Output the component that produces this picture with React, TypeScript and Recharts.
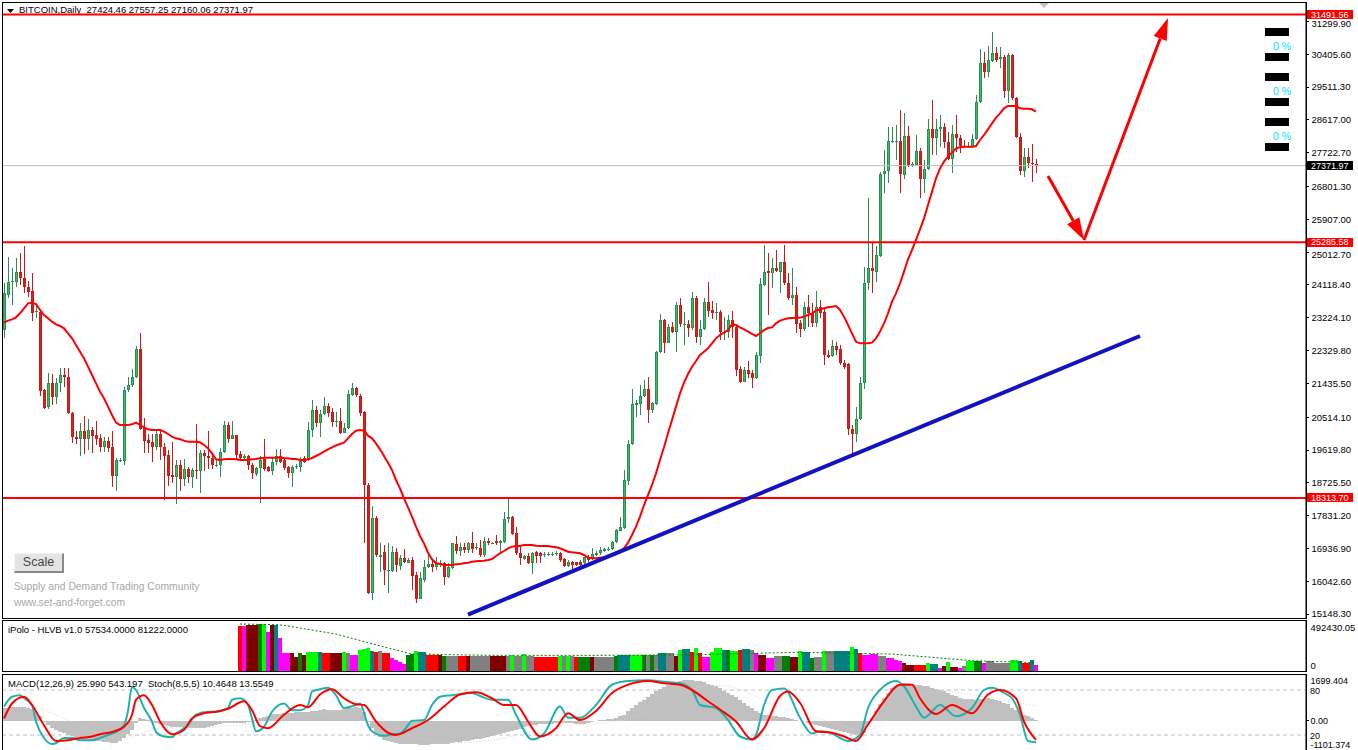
import React from "react";
import { ComposedChart, Bar, Line, XAxis, YAxis, ReferenceLine, Cell } from "recharts";

const FONT = '"Liberation Sans", Arial, sans-serif';
const W = 1358;
const SLOTS = 326;

// ---------- candles (daily BITCOIN) ----------
const opens = [
  22892, 23845, 24191, 24209, 24481, 24300, 24054, 23954, 23373, 23391,
  21256, 20784, 21438, 21075, 21438, 21665, 21620, 20639, 19966, 19921,
  20139, 19921, 20166, 20030, 19939, 19694, 19867, 19694, 18912, 19330,
  19330, 21256, 21393, 21620, 22374, 20257, 19894, 19830, 19712, 20057,
  19694, 19485, 18940, 18876, 19203, 18822, 19112, 18876, 19076, 19039,
  19530, 19457, 19403, 19203, 19212, 19566, 20293, 19930, 20021, 19512,
  19394, 19457, 19212, 18967, 19121, 19366, 19148, 19057, 19285, 19457,
  19348, 19148, 18985, 19157, 19148, 19394, 19348, 20166, 20711, 20347,
  20593, 20820, 20647, 20375, 20411, 20093, 20211, 21120, 21301, 21092,
  20665, 18667, 15714, 17758, 16713, 16850, 16323, 16323, 16850, 16459,
  16668, 16550, 16623, 16214, 15560, 16077, 16423, 16514, 16441, 16514,
  16532, 16150, 16395, 17059, 16868, 16986, 16895, 17095, 16968, 16941,
  16759, 17140, 17077, 17140, 17077, 17122, 17740, 17804, 17349, 16822,
  16641, 16732, 16532, 16850, 16805, 16759, 16777, 16777, 16786, 16805,
  16641, 16469, 16578, 16559, 16559, 16532, 16696, 16668, 16759, 16805,
  16877, 16895, 16914, 17122, 17422, 17486, 18785, 19776, 20848, 20875,
  21102, 21274, 20711, 20875, 22292, 23164, 22546, 22982, 22846, 23573,
  23037, 23046, 22955, 23755, 22710, 22910, 23664, 23437, 23346, 23391,
  22801, 22846, 23164, 22982, 21819, 21483, 21801, 21710, 21574, 22192,
  24118, 24500, 24436, 24590, 24481, 24736, 24182, 23755, 23846, 23092,
  22910, 23510, 23346, 23073, 23510, 23374, 22211, 22183, 22456, 22365,
  22002, 21965, 20185, 20049, 20457, 21438, 24164, 24573, 24482, 24909,
  27135, 27235, 28025, 28034, 28043, 27116, 28179, 27362, 27389, 27771,
  26998, 27271, 28361, 28116, 28361, 28416, 28025, 27544, 28225, 28116,
  27916, 27871, 27889, 28098, 29097, 30160, 29933, 30233, 30433, 30269,
  30342, 29415, 30387, 29206, 28161, 27235, 27616, 27452, 27424.46,
];
const highs = [
  24163, 24890, 24572, 24863, 25000, 25181, 24227, 24436, 23573, 23437,
  21290, 21710, 21683, 21574, 21865, 21865, 21865, 20660, 20139, 20366,
  20548, 20466, 20257, 20411, 20057, 19984, 19984, 20139, 19412, 19412,
  21347, 21620, 21819, 22455, 22801, 20484, 20057, 20057, 20202, 20184,
  19803, 19621, 19848, 19349, 19349, 19367, 19149, 19121, 20320, 19621,
  19621, 20139, 19530, 19349, 19666, 20402, 20384, 20402, 20039, 19603,
  19512, 19485, 19257, 19166, 19457, 19911, 19185, 19394, 19639, 19657,
  19394, 19185, 19212, 19230, 19421, 19457, 20393, 20983, 20820, 20711,
  21056, 20893, 20756, 20665, 20756, 20347, 21256, 21438, 21347, 21147,
  20680, 18712, 18094, 17822, 17095, 17032, 17077, 17004, 16941, 16759,
  16913, 16668, 16713, 16305, 16305, 16623, 16759, 16623, 16713, 16623,
  16577, 16532, 17095, 17286, 17077, 17077, 17104, 17377, 17077, 17168,
  17259, 17213, 17122, 17295, 17168, 17940, 18303, 17822, 17531, 16968,
  16759, 16805, 16850, 16877, 16850, 16850, 16841, 16841, 16868, 16850,
  16668, 16623, 16596, 16578, 16623, 16714, 16759, 16941, 16877, 16986,
  16941, 16968, 17150, 17459, 17804, 19076, 19894, 21274, 20984, 21393,
  21529, 21620, 20938, 22328, 23328, 23182, 23055, 23119, 23664, 23755,
  23391, 23164, 23936, 23818, 23164, 23755, 24209, 23682, 23636, 23437,
  23237, 23300, 23418, 23028, 21910, 21892, 22047, 21801, 22301, 24300,
  25208, 24981, 24845, 25072, 24754, 25208, 24454, 24590, 24073, 23164,
  23664, 23837, 23619, 23964, 23709, 23528, 22347, 22619, 22574, 22483,
  22074, 21983, 20303, 20802, 21620, 24600, 26480, 25299, 25190, 27207,
  27798, 28434, 28434, 28479, 28888, 28797, 28452, 27480, 28207, 27843,
  27525, 28634, 29161, 28634, 28752, 28525, 28298, 28479, 28752, 28207,
  28070, 28025, 28225, 29297, 30551, 30478, 30632, 31005, 30614, 30614,
  30387, 30433, 30405, 29251, 28252, 27843, 27843, 27952, 27557.25,
];
const lows = [
  22664, 23755, 23573, 24054, 24118, 23891, 23800, 23146, 23210, 21102,
  20738, 20729, 20848, 20866, 21193, 21347, 20602, 19803, 19785, 19467,
  19503, 19621, 19530, 19757, 19575, 19575, 19575, 18622, 18512, 19303,
  19212, 21211, 21347, 21574, 20166, 19548, 19530, 19285, 19621, 19349,
  18258, 18640, 18712, 18140, 18503, 18640, 18712, 18594, 18822, 18440,
  19058, 19094, 19094, 19167, 18894, 19530, 19803, 19912, 19349, 19349,
  19349, 19076, 18821, 18912, 18167, 19057, 19021, 18939, 19212, 19257,
  19076, 18848, 18621, 19094, 19030, 19276, 19330, 19984, 20257, 19984,
  20575, 20529, 20257, 20257, 20057, 20075, 20184, 21092, 21074, 20547,
  17077, 15696, 15532, 16713, 16305, 15941, 15732, 16305, 16305, 16350,
  16550, 16532, 15805, 15442, 15551, 16032, 16395, 16305, 16350, 16441,
  15941, 16123, 16368, 16786, 16741, 16822, 16804, 16822, 16895, 16713,
  16695, 17032, 17059, 17032, 16822, 17095, 17622, 17304, 16759, 16486,
  16623, 16505, 16233, 16532, 16532, 16714, 16741, 16741, 16741, 16578,
  16442, 16442, 16351, 16460, 16442, 16514, 16578, 16623, 16732, 16759,
  16850, 16877, 16895, 17095, 17413, 17459, 18667, 19757, 20530, 20575,
  21075, 20366, 20638, 20848, 22274, 22274, 22528, 22801, 22301, 22982,
  22483, 22710, 22892, 22528, 22483, 22892, 23255, 23182, 23164, 22619,
  22619, 22664, 22664, 21638, 21438, 21470, 21574, 21320, 21556, 22001,
  24100, 23300, 24027, 24481, 23891, 24118, 23709, 23573, 22819, 22710,
  22874, 22983, 22983, 22983, 23210, 21938, 22120, 22165, 22211, 21938,
  21820, 20030, 19485, 19849, 20439, 21275, 23982, 23891, 24209, 24891,
  26617, 26889, 27998, 27525, 26617, 26998, 27344, 27325, 27362, 26480,
  26617, 27253, 27662, 27662, 27889, 27843, 27525, 27180, 27752, 27707,
  27843, 27843, 27843, 28070, 29070, 29751, 29778, 30205, 30205, 30024,
  29206, 29070, 29161, 28116, 27116, 27071, 27298, 26935, 27160.06,
];
const closes = [
  23891, 24209, 24236, 24481, 24300, 24054, 23936, 23364, 23400, 21238,
  20775, 21438, 21075, 21438, 21665, 21601, 20620, 19966, 19921, 20139,
  19921, 20166, 20012, 19930, 19694, 19876, 19685, 18912, 19349, 19349,
  21256, 21393, 21620, 22374, 20184, 19876, 19803, 19712, 20057, 19694,
  19467, 18912, 18876, 19203, 18822, 19094, 18876, 19076, 19039, 19530,
  19457, 19403, 19203, 19212, 19566, 20293, 19930, 20021, 19485, 19394,
  19457, 19212, 18985, 19121, 19348, 19103, 19057, 19303, 19457, 19303,
  19139, 18985, 19148, 19175, 19330, 19303, 20166, 20711, 20347, 20593,
  20820, 20620, 20375, 20411, 20093, 20220, 21147, 21301, 21120, 20638,
  18667, 15714, 17758, 16759, 16759, 16350, 16350, 16850, 16486, 16668,
  16577, 16623, 16187, 15560, 16123, 16441, 16514, 16441, 16532, 16550,
  16150, 16441, 17077, 16868, 16986, 16895, 17095, 16913, 16986, 16759,
  17140, 17077, 17095, 17077, 17140, 17740, 17804, 17331, 16804, 16668,
  16732, 16532, 16823, 16732, 16732, 16786, 16795, 16795, 16814, 16623,
  16469, 16578, 16487, 16487, 16487, 16696, 16623, 16786, 16823, 16895,
  16914, 16923, 17122, 17441, 17531, 18803, 19776, 20875, 20893, 21102,
  21274, 20711, 20893, 22292, 23164, 22528, 22982, 22846, 23573, 23055,
  23055, 22955, 23755, 22710, 22928, 23664, 23418, 23346, 23391, 22846,
  22846, 23164, 22982, 21801, 21483, 21801, 21692, 21574, 22210, 24145,
  24481, 24436, 24590, 24500, 24736, 24163, 23755, 23845, 23055, 22910,
  23528, 23346, 23073, 23528, 23346, 22211, 22147, 22456, 22347, 21983,
  21893, 20185, 20049, 20457, 21438, 24164, 24573, 24509, 24936, 27135,
  27235, 28043, 28043, 28052, 27135, 28179, 27362, 27416, 27771, 26998,
  27271, 28361, 28116, 28361, 28416, 28025, 27544, 28225, 28116, 27916,
  27871, 27898, 28098, 29097, 30160, 29933, 30251, 30433, 30251, 30324,
  29415, 30387, 29206, 28161, 27235, 27616, 27434, 27416, 27371.97,
];
const maValues = [
  23091, 23146, 23182, 23237, 23346, 23482, 23618, 23636, 23600, 23437,
  23300, 23210, 23119, 23046, 23001, 22937, 22801, 22664, 22483, 22301,
  22119, 21892, 21665, 21438, 21211, 21029, 20802, 20575, 20366, 20302,
  20302, 20302, 20320, 20366, 20302, 20239, 20184, 20166, 20166, 20166,
  20121, 20057, 19984, 19939, 19912, 19876, 19848, 19848, 19848, 19830,
  19757, 19666, 19530, 19367, 19349, 19367, 19376, 19376, 19367, 19349,
  19349, 19349, 19366, 19375, 19394, 19412, 19412, 19412, 19412, 19421,
  19394, 19394, 19375, 19375, 19348, 19348, 19366, 19403, 19457, 19512,
  19575, 19639, 19693, 19748, 19784, 19820, 19939, 20057, 20148, 20166,
  20148, 20011, 19939, 19802, 19639, 19457, 19276, 19076, 18803, 18576,
  18303, 18058, 17804, 17531, 17277, 17077, 16822, 16641, 16532, 16514,
  16486, 16486, 16486, 16505, 16514, 16532, 16550, 16577, 16586, 16595,
  16604, 16623, 16650, 16732, 16804, 16868, 16941, 16986, 17004, 17004,
  17032, 17032, 17032, 17014, 17005, 17005, 17005, 16986, 16968, 16941,
  16895, 16850, 16832, 16823, 16805, 16759, 16687, 16668, 16668, 16687,
  16696, 16714, 16741, 16786, 16850, 16941, 17095, 17304, 17531, 17804,
  18122, 18394, 18667, 18985, 19349, 19694, 20075, 20439, 20802, 21166,
  21456, 21692, 21892, 22047, 22210, 22301, 22392, 22528, 22664, 22755,
  22819, 22892, 23046, 23028, 22964, 22910, 22846, 22783, 22728, 22801,
  22892, 22946, 22964, 23073, 23146, 23182, 23210, 23220, 23228, 23228,
  23255, 23301, 23346, 23419, 23455, 23482, 23510, 23528, 23546, 23437,
  23255, 23028, 22801, 22574, 22528, 22528, 22528, 22547, 22665, 22847,
  23073, 23346, 23664, 23891, 24164, 24482, 24818, 25072, 25345, 25636,
  25935, 26299, 26662, 27026, 27298, 27480, 27616, 27725, 27843, 27871,
  27889, 27889, 27889, 27907, 28070, 28207, 28361, 28525, 28679, 28797,
  28933, 28997, 28997, 28997, 28933, 28924, 28924, 28906, 28843,
];

const priceTicks = [
  31299.9, 30405.6, 29511.3, 28617.0, 27722.7, 26801.3, 25907.0, 25012.7, 24118.4, 23224.1,
  22329.8, 21435.5, 20514.1, 19619.8, 18725.5, 17831.2, 16936.9, 16042.6, 15148.3,
];
const levelLines = [31491.56, 25285.58, 18313.7];
const lastPrice = 27371.97;
const trendLine = [[116, 15135], [284, 22728]];
const arrowDown = [[261, 27089], [270, 25345]];
const arrowUp = [[270, 25345], [291, 31395]];

// ---------- volume (iPolo HLVB), starting at bar 59 ----------
const VOL_START = 59;
const volumes = [
  443000, 443000, 453000, 453000, 453000, 463000, 463000, 387000, 453000, 453000,
  328000, 174000, 174000, 181000, 141000, 181000, 158000, 190000, 190000, 190000,
  190000, 174000, 174000, 181000, 181000, 181000, 190000, 181000, 158000, 158000,
  210000, 220000, 226000, 197000, 184000, 194000, 174000, 174000, 131000, 108000,
  92000, 66000, 158000, 164000, 194000, 184000, 184000, 161000, 161000, 161000,
  154000, 151000, 151000, 151000, 151000, 151000, 151000, 151000, 151000, 151000,
  151000, 151000, 151000, 144000, 144000, 144000, 144000, 144000, 161000, 151000,
  144000, 167000, 151000, 151000, 138000, 138000, 138000, 138000, 138000, 138000,
  144000, 144000, 144000, 144000, 138000, 138000, 138000, 138000, 135000, 138000,
  138000, 138000, 138000, 138000, 144000, 161000, 161000, 161000, 161000, 161000,
  161000, 161000, 161000, 161000, 161000, 177000, 177000, 177000, 177000, 144000,
  204000, 217000, 217000, 187000, 227000, 177000, 135000, 135000, 184000, 227000,
  227000, 210000, 210000, 194000, 194000, 204000, 217000, 217000, 210000, 177000,
  161000, 161000, 128000, 128000, 144000, 144000, 144000, 144000, 135000, 135000,
  194000, 184000, 184000, 128000, 135000, 135000, 200000, 194000, 194000, 200000,
  200000, 200000, 200000, 233000, 220000, 177000, 161000, 161000, 167000, 167000,
  144000, 144000, 128000, 128000, 112000, 95000, 79000, 62000, 62000, 62000,
  56000, 56000, 79000, 69000, 69000, 30000, 46000, 89000, 36000, 36000,
  30000, 46000, 95000, 95000, 102000, 102000, 79000, 95000, 95000, 79000,
  79000, 79000, 79000, 112000, 112000, 102000, 79000, 79000, 112000, 57534,
];
const volColorCodes = (
  "R M MR MR MR G L M MR T " +
  "M M M MR MR G MR L L L " +
  "T R R MR MR MR L Y M M " +
  "L L L T R Y R R M M " +
  "M M G G L T T R R R " +
  "MR G Y Y Y R R MR Y Y " +
  "Y Y Y MR MR MR MR Y L Y " +
  "Y L Y Y R R R R R R " +
  "L Y L Y R G G G MR Y " +
  "Y Y Y Y G T T T L L " +
  "L G Y G Y T T Y Y MR " +
  "L T T R L R M M L L " +
  "L T G L L R T T Y M " +
  "MR MR M M Y Y G G MR MR " +
  "L T T G Y Y L Y Y T " +
  "T T T L T R M M M M " +
  "Y Y M M M M MR MR MR R " +
  "R R L T T M MR L MR MR " +
  "M Y L L G G M Y Y Y " +
  "Y Y Y L L T R R T M"
).split(" ");
const volPalette = {
  R: "#FF0000", M: "#FF00FF", MR: "#800000", G: "#008000", L: "#00FF00", T: "#008080", Y: "#808080",
};
const volLevelPts = [
  [59, 463000], [68, 456000], [70, 449000], [83, 364000], [96, 227000], [102, 167000],
  [122, 154000], [148, 154000], [174, 161000], [198, 184000], [222, 167000], [242, 102000], [258, 81222],
];

// ---------- MACD(12,26,9) and Stoch(8,5,5) ----------
const macdMain = [
  455, 480, 500, 510, 515, 517, 480, 420, 330, 180, -44,
  -170, -292, -350, -420, -480, -541, -590, -640, -690, -728,
  -745, -760, -770, -780, -790, -810, -830, -852, -760, -666,
  -520, -355, -106, 81, 50, 19, -40, -106, -140, -170,
  -200, -230, -245, -260, -275, -292, -290, -285, -275, -267,
  -240, -200, -165, -135, -106, -106, -106, -106, -90, -75,
  -60, -44, 20, 81, 130, 180, 230, 245, 260, 270,
  280, 292, 300, 310, 320, 330, 350, 370, 390, 417,
  410, 400, 395, 392, 420, 450, 480, 517, 450, 330,
  -44, -280, -479, -620, -728, -780, -820, -852, -865, -875,
  -885, -890, -895, -898, -900, -900, -895, -890, -885, -877,
  -860, -840, -820, -800, -778, -750, -725, -700, -675, -653,
  -615, -580, -540, -500, -467, -430, -390, -342, -300, -260,
  -210, -156, -150, -145, -138, -131, -120, -110, -100, -93,
  -100, -110, -120, -125, -131, -90, -50, -20, 10, 31,
  50, 70, 93, 150, 218, 340, 467, 570, 680, 778,
  880, 980, 1089, 1170, 1250, 1338, 1390, 1440, 1490, 1525,
  1520, 1510, 1490, 1463, 1420, 1370, 1320, 1276, 1200, 1120,
  1040, 965, 860, 750, 640, 529, 450, 370, 290, 218,
  200, 180, 156, 140, 115, 93, 60, 30, 0, -31,
  -75, -120, -170, -218, -250, -280, -310, -342, -380, -420,
  -467, -510, -554, -520, -467, -156, 100, 342, 600, 840,
  1030, 1214, 1280, 1340, 1401, 1390, 1360, 1338, 1320, 1300,
  1276, 1230, 1190, 1152, 1090, 1030, 965, 910, 850, 803,
  795, 785, 778, 795, 815, 840, 800, 760, 716, 660,
  600, 467, 390, 300, 218, 150, 80, 25.99,
];
const macdSignalPts = [
  [0, 560], [6, 520], [10, 380], [14, 150], [18, -150], [22, -400], [26, -580], [30, -700],
  [33, -560], [36, -380], [40, -260], [46, -250], [52, -240], [58, -170], [64, -80], [70, 100],
  [76, 230], [82, 330], [88, 410], [91, 380], [94, 100], [98, -300], [102, -580], [106, -740],
  [110, -830], [116, -820], [122, -730], [128, -560], [134, -360], [140, -200], [146, -130],
  [152, -40], [156, 60], [160, 300], [164, 600], [168, 900], [172, 1150], [176, 1300],
  [180, 1300], [184, 1150], [188, 900], [192, 650], [196, 420], [200, 230], [204, 60],
  [208, -120], [212, -300], [215, -390], [218, -250], [221, 100], [224, 480], [228, 850],
  [232, 1050], [236, 1100], [240, 1000], [244, 900], [248, 830], [252, 720], [255, 630], [258, 543.197],
];
const stochMainPts = [
  [0, 58], [2, 71], [4, 73], [5, 69], [7, 60], [8, 38], [10, 16], [12, 8], [13, 9], [15, 16],
  [17, 16], [19, 13], [22, 13], [24, 16], [27, 22], [28, 24], [30, 33], [31, 52], [32, 84], [33, 80],
  [35, 56], [37, 38], [38, 24], [40, 18], [42, 17], [43, 22], [46, 33], [48, 47], [51, 51], [53, 51],
  [56, 56], [57, 67], [59, 69], [61, 60], [62, 42], [63, 25], [65, 31], [67, 51], [70, 62], [72, 53],
  [74, 53], [76, 60], [77, 78], [79, 81], [81, 83], [83, 73], [85, 56], [88, 60], [89, 62], [91, 33],
  [92, 25], [95, 19], [97, 21], [99, 22], [101, 33], [102, 39], [105, 40], [107, 60], [109, 71], [112, 73],
  [117, 76], [119, 72], [122, 67], [126, 67], [128, 47], [132, 14], [135, 22], [139, 58], [141, 43], [144, 43],
  [148, 60], [152, 87], [156, 92], [161, 93], [165, 91], [169, 89], [172, 80], [174, 60], [178, 56], [181, 40],
  [184, 18], [187, 14], [188, 20], [190, 60], [192, 80], [195, 82], [199, 43], [202, 22], [204, 25], [207, 22],
  [209, 16], [211, 12], [214, 20], [216, 56], [219, 80], [223, 92], [225, 85], [228, 58], [230, 43], [234, 60],
  [238, 45], [242, 56], [245, 80], [247, 83], [250, 76], [252, 69], [254, 47], [256, 12], [258, 10.4648],
];
const stochSignalPts = [
  [0, 42], [2, 62], [5, 71], [7, 60], [10, 33], [13, 12], [16, 13], [19, 16], [22, 18], [24, 21],
  [27, 24], [30, 31], [32, 47], [33, 67], [35, 73], [37, 60], [39, 38], [41, 24], [42, 21], [45, 27],
  [47, 42], [50, 49], [53, 51], [56, 55], [60, 65], [62, 53], [64, 32], [66, 29], [70, 47], [74, 60],
  [76, 57], [79, 74], [82, 81], [85, 69], [88, 61], [90, 60], [93, 38], [96, 23], [98, 20], [102, 29],
  [106, 40], [110, 58], [114, 74], [118, 77], [122, 69], [125, 60], [128, 60], [131, 38], [134, 18], [138, 29],
  [141, 49], [144, 40], [148, 52], [152, 76], [156, 87], [161, 92], [165, 89], [169, 87], [172, 80], [176, 65],
  [179, 54], [183, 38], [187, 14], [190, 29], [194, 72], [196, 78], [199, 63], [203, 25], [207, 23], [210, 18],
  [213, 12], [216, 34], [220, 65], [224, 87], [227, 87], [229, 69], [233, 48], [237, 60], [242, 49], [246, 74],
  [249, 80], [253, 69], [255, 38], [258, 13.5549],
];

// ---------- build chart rows ----------
const toMap = (pts) => new Map(pts.map((p) => [p[0], p[1]]));
const volLevelMap = toMap(volLevelPts);
const signalMap = toMap(macdSignalPts);
const stochMap = toMap(stochMainPts);
const stochSigMap = toMap(stochSignalPts);

const rows = Array.from({ length: SLOTS }, (_, i) => {
  const has = i < closes.length;
  const vi = i - VOL_START;
  const hasVol = vi >= 0 && vi < volumes.length;
  return {
    i,
    o: has ? opens[i] : null,
    h: has ? highs[i] : null,
    l: has ? lows[i] : null,
    c: has ? closes[i] : null,
    range: has ? [lows[i], highs[i]] : null,
    ma: has ? maValues[i] : null,
    vol: hasVol ? volumes[vi] : null,
    volColor: hasVol ? volPalette[volColorCodes[vi]] : "transparent",
    volLevel: volLevelMap.has(i) ? volLevelMap.get(i) : null,
    macd: has ? macdMain[i] : null,
    signal: signalMap.has(i) ? signalMap.get(i) : null,
    stoch: stochMap.has(i) ? stochMap.get(i) : null,
    stochSig: stochSigMap.has(i) ? stochSigMap.get(i) : null,
  };
});

// ---------- shapes ----------
function Candle(props) {
  const { x, y, width, height, payload } = props;
  if (!payload || payload.o == null) return <g />;
  const { o, h, l, c } = payload;
  const cx = Math.round(x + width / 2 - 0.5);
  const span = h - l;
  const toY = (p) => (span > 0 ? y + ((h - p) / span) * height : y);
  const up = c >= o;
  const edge = up ? "#2e8b57" : "#c21e1e";
  const fill = up ? "#31c553" : "#f01414";
  const yHi = Math.round(y);
  const yLo = Math.round(y + height);
  const yTop = Math.round(toY(Math.max(o, c)));
  const yBot = Math.round(toY(Math.min(o, c)));
  const bodyH = Math.max(1, yBot - yTop);
  return (
    <g shapeRendering="crispEdges">
      <rect x={cx} y={yHi} width={1} height={Math.max(1, yLo - yHi)} fill={edge} />
      <rect x={cx - 1} y={yTop} width={3} height={bodyH} fill={edge} />
      {bodyH > 2 && <rect x={cx} y={yTop + 1} width={1} height={bodyH - 2} fill={fill} />}
    </g>
  );
}

function ArrowShape(props) {
  const { x1, y1, x2, y2 } = props;
  const ang = Math.atan2(y2 - y1, x2 - x1);
  const L = 22;
  const Wd = 7;
  const bx = x2 - L * Math.cos(ang);
  const by = y2 - L * Math.sin(ang);
  const px = -Math.sin(ang) * Wd;
  const py = Math.cos(ang) * Wd;
  return (
    <g>
      <line x1={x1} y1={y1} x2={bx} y2={by} stroke="#ff0000" strokeWidth={3} />
      <polygon points={`${x2},${y2} ${bx + px},${by + py} ${bx - px},${by - py}`} fill="#ff0000" />
    </g>
  );
}

function PriceBox(props) {
  const { viewBox, text, bg } = props;
  if (!viewBox) return null;
  const yy = viewBox.y;
  const x0 = viewBox.x + viewBox.width + 1;
  return (
    <g>
      <rect x={x0} y={yy - 4.5} width={46} height={9} fill={bg} shapeRendering="crispEdges" />
      <text x={x0 + 4} y={yy + 3.2} fontSize={9} fill="#ffffff" fontFamily={FONT}>
        {text}
      </text>
    </g>
  );
}

function LevelLabel(props) {
  const { viewBox, text } = props;
  if (!viewBox) return null;
  const x0 = viewBox.x + viewBox.width + 4;
  return (
    <text x={x0} y={viewBox.y + 3.8} fontSize={9} fill="#000" fontFamily={FONT}>
      {text}
    </text>
  );
}

function PriceTick(props) {
  const { x, y, payload } = props;
  const v = Number(payload.value);
  // ticks sitting right under a level-price box are nudged down a little
  const underBox = levelLines.some((lv) => lv > v && lv - v < 300);
  const dy = underBox ? 5.6 : 3.3;
  return (
    <g>
      <line x1={x} x2={x + 3} y1={y} y2={y} stroke="#000" shapeRendering="crispEdges" />
      <text x={x + 5.5} y={y + dy} fontSize={9.5} fill="#000" fontFamily={FONT}>
        {v.toFixed(2)}
      </text>
    </g>
  );
}

function VolTick(props) {
  const { x, y, payload } = props;
  const v = payload.value;
  const label = v === 0 ? "0" : Number(v).toFixed(2);
  const dy = v === 0 ? -2.2 : 10.3;
  return (
    <text x={x + 4.5} y={y + dy} fontSize={9.5} fill="#000" fontFamily={FONT}>
      {label}
    </text>
  );
}

function MacdTick(props) {
  const { x, y, payload } = props;
  const v = payload.value;
  const label = v === 0 ? "0.00" : Number(v).toFixed(3);
  const dy = v === 0 ? 3.4 : v > 0 ? 8.6 : -2;
  return (
    <g>
      {v === 0 && <line x1={x} x2={x + 3} y1={y} y2={y} stroke="#000" shapeRendering="crispEdges" />}
      <text x={x + 4.5} y={y + dy} fontSize={9} fill="#000" fontFamily={FONT}>
        {label}
      </text>
    </g>
  );
}

const txt = (extra) => ({
  position: "absolute",
  fontFamily: FONT,
  fontSize: 9.5,
  lineHeight: "10px",
  whiteSpace: "nowrap",
  color: "#000",
  ...extra,
});

export default function App() {
  const seg = (pts) => pts.map((p) => ({ x: p[0], y: p[1] }));
  return (
    <div style={{ position: "absolute", left: 0, top: 0, width: W, height: 750, background: "#fff", overflow: "hidden" }}>
      {/* header */}
      <svg style={{ position: "absolute", left: 7, top: 9 }} width={8} height={5}>
        <polygon points="0,0 7,0 3.5,4" fill="#000" />
      </svg>
      <div style={txt({ left: 19, top: 5 })}>BITCOIN,Daily&nbsp;&nbsp;27424.46 27557.25 27160.06 27371.97</div>

      {/* main price panel */}
      <div style={{ position: "absolute", left: 0, top: 0 }}>
        <ComposedChart width={W} height={619} data={rows} margin={{ top: 3, right: 0, bottom: 1, left: 2 }}>
          <XAxis dataKey="i" type="category" hide />
          <YAxis
            orientation="right"
            type="number"
            width={52}
            domain={[15041.8, 31804]}
            allowDataOverflow
            ticks={priceTicks}
            interval={0}
            tickLine={false}
            tickSize={0}
            tickMargin={0}
            axisLine={{ stroke: "#000" }}
            tick={(p) => <PriceTick {...p} />}
          />
          <ReferenceLine y={lastPrice} stroke="#c0c0c0" strokeWidth={1} label={<PriceBox text="27371.97" bg="#000000" />} />
          {levelLines.map((v) => (
            <ReferenceLine key={v} y={v} stroke="#ff0000" strokeWidth={2} label={<PriceBox text={v.toFixed(2)} bg="#ff0000" />} />
          ))}
          <Bar dataKey="range" barSize={3} shape={<Candle />} isAnimationActive={false} />
          <Line dataKey="ma" stroke="#ff0000" strokeWidth={2} dot={false} isAnimationActive={false} />
          <ReferenceLine segment={seg(trendLine)} stroke="#1212c4" strokeWidth={4} />
          <ReferenceLine segment={seg(arrowDown)} shape={(p) => <ArrowShape {...p} />} />
          <ReferenceLine segment={seg(arrowUp)} shape={(p) => <ArrowShape {...p} />} />
        </ComposedChart>
      </div>

      {/* volume panel */}
      <div style={{ position: "absolute", left: 0, top: 620 }}>
        <ComposedChart width={W} height={51} data={rows} margin={{ top: 1, right: 0, bottom: 0, left: 2 }}>
          <XAxis dataKey="i" type="category" hide />
          <YAxis
            orientation="right"
            type="number"
            width={52}
            domain={[0, 492430.05]}
            allowDataOverflow
            ticks={[0, 492430.05]}
            interval={0}
            tickLine={false}
            tickSize={0}
            tickMargin={0}
            axisLine={{ stroke: "#000" }}
            tick={(p) => <VolTick {...p} />}
          />
          <Bar dataKey="vol" barSize={4} isAnimationActive={false} shapeRendering="crispEdges">
            {rows.map((r) => (
              <Cell key={r.i} fill={r.volColor} />
            ))}
          </Bar>
          <Line dataKey="volLevel" stroke="#008000" strokeWidth={1} strokeDasharray="2 2" dot={false} connectNulls isAnimationActive={false} />
        </ComposedChart>
      </div>

      {/* MACD + Stoch panel */}
      <div style={{ position: "absolute", left: 0, top: 674 }}>
        <ComposedChart width={W} height={76} data={rows} margin={{ top: 1, right: 0, bottom: 0, left: 2 }}>
          <XAxis dataKey="i" type="category" hide />
          <YAxis
            yAxisId="m"
            orientation="right"
            type="number"
            width={52}
            domain={[-1101.374, 1699.404]}
            allowDataOverflow
            ticks={[1699.404, 0, -1101.374]}
            interval={0}
            tickLine={false}
            tickSize={0}
            tickMargin={0}
            axisLine={{ stroke: "#000" }}
            tick={(p) => <MacdTick {...p} />}
          />
          <YAxis yAxisId="s" type="number" domain={[0, 100]} allowDataOverflow hide />
          <ReferenceLine yAxisId="s" y={80} stroke="#c0c0c0" strokeDasharray="4 3" label={<LevelLabel text="80" />} />
          <ReferenceLine yAxisId="s" y={20} stroke="#c0c0c0" strokeDasharray="4 3" label={<LevelLabel text="20" />} />
          <Bar yAxisId="m" dataKey="macd" barSize={4} fill="#c0c0c0" isAnimationActive={false} shapeRendering="crispEdges" />
          <Line yAxisId="m" dataKey="signal" type="monotone" stroke="#d4d4d4" strokeWidth={1} strokeDasharray="1 2" dot={false} connectNulls isAnimationActive={false} />
          <Line yAxisId="s" dataKey="stoch" type="monotone" stroke="#20b2aa" strokeWidth={2} dot={false} connectNulls isAnimationActive={false} />
          <Line yAxisId="s" dataKey="stochSig" type="monotone" stroke="#ff0000" strokeWidth={2} dot={false} connectNulls isAnimationActive={false} />
        </ComposedChart>
      </div>

      {/* panel frames */}
      <div style={{ position: "absolute", left: 2, top: 2, width: 1305, height: 617, border: "1px solid #000", boxSizing: "border-box", pointerEvents: "none" }} />
      <div style={{ position: "absolute", left: 2, top: 620, width: 1305, height: 52, border: "1px solid #000", boxSizing: "border-box", pointerEvents: "none" }} />
      <div style={{ position: "absolute", left: 2, top: 674, width: 1305, height: 80, border: "1px solid #000", boxSizing: "border-box", pointerEvents: "none" }} />

      {/* shift marker */}
      <svg style={{ position: "absolute", left: 1039, top: 3 }} width={11} height={6}>
        <polygon points="0,0 10,0 5,5" fill="#c0c0c0" />
      </svg>

      {/* indicator blocks top right */}
      {[28, 53, 73, 98, 118, 143].map((t) => (
        <div key={t} style={{ position: "absolute", left: 1265, top: t, width: 24, height: 8, background: "#000" }} />
      ))}
      {[41, 86, 131].map((t) => (
        <div key={t} style={txt({ left: 1273, top: t, color: "#00e1ff", fontSize: 10.5 })}>0 %</div>
      ))}

      {/* panel captions */}
      <div style={txt({ left: 8, top: 625 })}>iPolo - HLVB v1.0 57534.0000 81222.0000</div>
      <div style={txt({ left: 8, top: 678.5 })}>MACD(12,26,9) 25.990 543.197&nbsp;&nbsp;Stoch(8,5,5) 10.4648 13.5549</div>

      {/* scale button and watermark */}
      <div
        style={{
          position: "absolute",
          left: 14,
          top: 553,
          width: 50,
          height: 20,
          boxSizing: "border-box",
          background: "#e4e4e4",
          borderTop: "1px solid #f4f4f4",
          borderLeft: "1px solid #f4f4f4",
          borderRight: "2px solid #8a8a8a",
          borderBottom: "2px solid #8a8a8a",
          fontFamily: FONT,
          fontSize: 12.5,
          color: "#444",
          textAlign: "center",
          lineHeight: "17px",
        }}
      >
        Scale
      </div>
      <div style={txt({ left: 14, top: 581, fontSize: 10.3, color: "#a8a8a8", lineHeight: "11px" })}>Supply and Demand Trading Community</div>
      <div style={txt({ left: 14, top: 597, fontSize: 10.3, color: "#a8a8a8", lineHeight: "11px" })}>www.set-and-forget.com</div>
    </div>
  );
}
